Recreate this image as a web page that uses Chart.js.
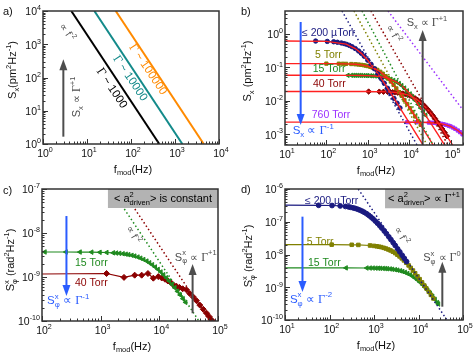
<!DOCTYPE html>
<html>
<head>
<meta charset="utf-8">
<script src="https://cdn.jsdelivr.net/npm/chart.js@4.4.1/dist/chart.umd.min.js"></script>
<style>
    html, body { margin: 0; padding: 0; background: #fff; }
    #wrap { position: relative; width: 474px; height: 356px; }
    #wrap canvas { position: absolute; }
</style>
</head>
<body>
<div id="wrap">
    <canvas id="pa" width="237" height="178" style="left:0;top:0"></canvas>
    <canvas id="pb" width="237" height="178" style="left:237px;top:0"></canvas>
    <canvas id="pc" width="237" height="178" style="left:0;top:178px"></canvas>
    <canvas id="pd" width="237" height="178" style="left:237px;top:178px"></canvas>
</div>
<script>
// ---- a) S_x ~ f^-2 for three quality factors
var aGamma = ['1000', '10000', '100000']
var aLineF = [[4.4, 440], [14.7, 1470], [45, 4500]]
var aLineS = [1e4, 1]

// ---- b) displacement noise, fits and f^-2 asymptotes
var bLabels = ['≤ 200 µTorr', '5 Torr', '15 Torr', '40 Torr', '760 Torr']

var bUTorrF = [55, 105, 150, 185, 230, 270, 310, 360, 420, 500, 600, 700, 820, 1000, 1200, 1450, 1750, 2100, 2500, 3000, 3600, 4300, 5100, 6000]
var bUTorrS = [0.615, 0.60, 0.585, 0.565, 0.54, 0.515, 0.49, 0.455, 0.415, 0.366, 0.31, 0.263, 0.216, 0.164, 0.124, 0.091, 0.065, 0.0466, 0.0338, 0.0238, 0.0167, 0.0118, 0.0085, 0.0061]

var b5TorrF = [100, 200, 250, 300, 400, 500, 600, 700, 800, 900, 1000, 1150, 1300, 1500, 1700, 2000, 2300, 2700, 3100, 3600, 4200, 4900, 5700, 6600, 7700, 9000, 10500, 12000, 14000, 16500, 19000]
var b5TorrS = [0.1298, 0.129, 0.1285, 0.1278, 0.1262, 0.1241, 0.1217, 0.119, 0.116, 0.1127, 0.1093, 0.104, 0.0985, 0.0912, 0.0841, 0.074, 0.065, 0.0547, 0.0461, 0.0377, 0.030, 0.0235, 0.0182, 0.0141, 0.0106, 0.008, 0.006, 0.0046, 0.0034, 0.0025, 0.0019]

var b15TorrF = [330, 400, 450, 500, 560, 630, 700, 800, 900, 1000, 1150, 1300, 1500, 1750, 2000, 2300, 2700, 3100, 3600, 4200, 4900, 5700, 6600, 7700, 9000, 10500, 12000, 14000, 16500, 19000, 22000, 25000]
var b15TorrS = [0.0579, 0.0578, 0.0577, 0.0577, 0.0576, 0.0575, 0.0573, 0.0571, 0.0569, 0.0567, 0.0562, 0.0558, 0.0551, 0.0541, 0.053, 0.0515, 0.0495, 0.0473, 0.0444, 0.0409, 0.037, 0.0328, 0.0286, 0.0241, 0.0199, 0.0161, 0.0132, 0.0103, 0.0078, 0.0061, 0.0047, 0.0037]

var b40TorrF = [1050, 1900, 2400, 3000, 3500, 4000, 4600, 5300, 6100, 7000, 8000, 9200, 10500, 12000, 14000, 16000, 18500, 21000, 24000, 28000, 32000, 37000, 42000, 48000, 55000, 63000, 72000, 82000]
var b40TorrS = [0.01894, 0.01879, 0.01867, 0.01848, 0.01831, 0.01811, 0.01784, 0.0175, 0.01706, 0.0165, 0.01587, 0.01507, 0.01418, 0.01315, 0.01185, 0.01061, 0.00923, 0.00802, 0.00684, 0.00555, 0.00456, 0.00365, 0.00295, 0.00234, 0.00184, 0.00143, 0.00112, 0.00087]

var b760TorrF = [9000, 15000, 30000, 35000, 40000, 46000, 52000, 60000, 68000, 78000, 90000, 100000, 115000, 130000, 150000, 170000, 195000]
var b760TorrS = [0.00229, 0.00228, 0.00223, 0.00221, 0.00218, 0.00214, 0.0021, 0.00205, 0.00198, 0.0019, 0.0018, 0.00171, 0.00158, 0.00145, 0.00129, 0.00115, 0.00099]

var bFitF = [10, 100, 300, 500, 700, 1000, 1500, 2000, 3000, 5000, 7000, 1e4, 1.5e4, 2e4, 3e4, 5e4, 7e4, 1e5, 1.5e5, 2e5]
var bFitUTorr = [0.62, 0.603, 0.496, 0.366, 0.263, 0.164, 0.0855, 0.0512, 0.0238, 0.0088, 0.00452, 0.00222, 0.00099, 0.000558, 0.000248, 8.9e-5, 4.6e-5, 2.2e-5, 1e-5, 5.6e-6]
var bFit5Torr = [0.13, 0.1298, 0.1278, 0.1241, 0.119, 0.1093, 0.0912, 0.074, 0.048, 0.0227, 0.01268, 0.00652, 0.00298, 0.00169, 0.000758, 0.000274, 0.00014, 6.9e-5, 3.1e-5, 1.7e-5]
var bFit15Torr = [0.058, 0.058, 0.05788, 0.05766, 0.05734, 0.05666, 0.05508, 0.05298, 0.04782, 0.03646, 0.02689, 0.01721, 0.00922, 0.00554, 0.00259, 0.000969, 0.000497, 0.000245, 0.000109, 6.1e-5]
var bFit40Torr = [0.019, 0.019, 0.019, 0.01899, 0.01897, 0.01894, 0.01887, 0.01877, 0.01848, 0.01764, 0.0165, 0.01451, 0.0112, 0.00849, 0.005, 0.00219, 0.00118, 0.000594, 0.00027, 0.000153]
var bFit760Torr = [0.0023, 0.0023, 0.0023, 0.0023, 0.0023, 0.0023, 0.0023, 0.0023, 0.0023, 0.002298, 0.002296, 0.00229, 0.00228, 0.00227, 0.00223, 0.00212, 0.00197, 0.00171, 0.00129, 0.00097]

var bSlopeF = [[238, 15400], [464, 26900], [725, 37600], [1190, 86500], [3080, 2e5]]
var bSlopeS = [[4.9, 4.8e-4], [4.9, 4.8e-4], [4.9, 4.8e-4], [4.9, 4.8e-4], [4.9, 5.3e-3]]

// ---- c) phase noise, 15 and 40 Torr
var c15TorrF = [100, 112, 256, 444, 702, 970, 1270, 1640, 1850, 2100, 2400, 2700, 3000, 3400, 3800, 4300, 4800, 5400, 6100, 6800, 7600, 8500, 9500, 10600, 11800, 13200, 14700, 16400, 18300, 20400, 22700, 25300, 28000]
var c15TorrS = [3.7e-9, 3.7e-9, 3.7e-9, 3.69e-9, 3.67e-9, 3.64e-9, 3.6e-9, 3.54e-9, 3.5e-9, 3.45e-9, 3.38e-9, 3.3e-9, 3.22e-9, 3.11e-9, 2.99e-9, 2.84e-9, 2.68e-9, 2.5e-9, 2.3e-9, 2.1e-9, 1.9e-9, 1.69e-9, 1.49e-9, 1.3e-9, 1.125e-9, 9.6e-10, 8.13e-10, 6.83e-10, 5.69e-10, 4.72e-10, 3.91e-10, 3.21e-10, 2.66e-10]

var c40TorrF = [100, 1260, 2500, 3800, 5000, 6400, 7900, 9600, 11000, 12500, 14000, 15500, 17400, 19500, 22000, 25000, 29000, 33000, 38000, 43000, 49000, 56000, 64000, 71000, 78000, 82000]
var c40TorrS = [1.17e-9, 1.2e-9, 9.8e-10, 1.1e-9, 1.1e-9, 1.2e-9, 9.4e-10, 1.02e-9, 9.5e-10, 8.9e-10, 8.1e-10, 7.6e-10, 6.6e-10, 6.2e-10, 5.8e-10, 5.4e-10, 5.1e-10, 4.2e-10, 3.5e-10, 2.9e-10, 2.3e-10, 1.85e-10, 1.5e-10, 1.25e-10, 1.05e-10, 9.5e-11]

var cSlopeF = [[1500, 47400], [2270, 71800]]
var cSlopeS = [1e-7, 1e-10]

// ---- d) phase noise, <= 200 uTorr, 5 and 15 Torr
var dUTorrF = [10, 57, 114, 174, 228, 270, 300, 340, 380, 430, 480, 540, 600, 680, 760, 850, 950, 1070, 1200, 1350, 1500, 1700, 1900, 2150, 2400, 2700, 3000, 3400, 3800, 4300, 4800, 5400]
var dUTorrS = [3.2e-7, 3.18e-7, 3.13e-7, 3.04e-7, 2.93e-7, 2.83e-7, 2.76e-7, 2.65e-7, 2.55e-7, 2.41e-7, 2.27e-7, 2.11e-7, 1.95e-7, 1.76e-7, 1.58e-7, 1.4e-7, 1.23e-7, 1.05e-7, 8.99e-8, 7.55e-8, 6.4e-8, 5.21e-8, 4.31e-8, 3.47e-8, 2.85e-8, 2.29e-8, 1.88e-8, 1.48e-8, 1.2e-8, 9.45e-9, 7.63e-9, 6.06e-9]

var d5TorrF = [10, 112, 316, 445, 815, 1000, 1150, 1300, 1450, 1650, 1850, 2100, 2350, 2650, 3000, 3350, 3750, 4200, 4700, 5300, 6000, 6700, 7500, 8400, 9500, 10600, 12000, 13500, 15000, 17000, 19000, 21600]
var d5TorrS = [2e-8, 2e-8, 1.98e-8, 1.96e-8, 1.885e-8, 1.83e-8, 1.78e-8, 1.73e-8, 1.68e-8, 1.6e-8, 1.52e-8, 1.42e-8, 1.33e-8, 1.22e-8, 1.1e-8, 9.85e-9, 8.73e-9, 7.63e-9, 6.6e-9, 5.59e-9, 4.64e-9, 3.9e-9, 3.24e-9, 2.67e-9, 2.15e-9, 1.77e-9, 1.41e-9, 1.13e-9, 9.23e-10, 7.26e-10, 5.86e-10, 4.56e-10]

var d15TorrF = [10, 235, 690, 815, 950, 1100, 1250, 1400, 1600, 1800, 2000, 2300, 2600, 3000, 3400, 3900, 4400, 5000, 5700, 6500, 7400, 8400, 9500, 10800, 12300, 14000, 16000, 18200, 20700, 23500, 26500, 28000]
var d15TorrS = [3.9e-9, 3.9e-9, 3.87e-9, 3.86e-9, 3.85e-9, 3.83e-9, 3.81e-9, 3.79e-9, 3.76e-9, 3.72e-9, 3.68e-9, 3.62e-9, 3.54e-9, 3.44e-9, 3.33e-9, 3.18e-9, 3.03e-9, 2.84e-9, 2.63e-9, 2.4e-9, 2.15e-9, 1.9e-9, 1.67e-9, 1.43e-9, 1.2e-9, 9.96e-10, 8.11e-10, 6.58e-10, 5.29e-10, 4.23e-10, 3.41e-10, 3.08e-10]

var dSlopeF = [443, 43700]
var dSlopeS = [1e-6, 1e-10]

// ---- styles
var SANS = '"Liberation Sans", Arial, Helvetica, sans-serif'
var SERIF = '"Liberation Serif", "Times New Roman", serif'
var AXIS = '#333333'
var GRAY = '#4d4d4d'
var BOX = '#b3b3b3'
var BLUE = '#2a5cff'
var RED = '#ff2020'
var NAVY = '#1a1a80'
var OLIVE = '#808000'
var GREEN = '#1f8a1f'
var DARKRED = '#8b0000'
var PURPLE = '#9b30ff'
var aLineColors = ['#000000', '#138a8a', '#ff8a00']
var bColors = [NAVY, OLIVE, GREEN, DARKRED, PURPLE]
var TICK_SIZE = 10.5

function pts(fs, ss) {
    return fs.map(function(f, i) {
        return { x: f, y: Array.isArray(ss) ? ss[i] : ss }
    })
}

function lineSet(data, color, width, order) {
    return { data: data, showLine: true, borderColor: color, borderWidth: width, pointRadius: 0, order: order || 0 }
}

function dotSet(data, color) {
    return { data: data, showLine: true, borderColor: color, borderWidth: 1.5, borderDash: [1.5, 2.5], pointRadius: 0, order: 0 }
}

// markers joined by a thin line; firstHidden: the first point only starts the line at the left edge
function markSet(data, color, style, r, rot, firstHidden, order) {
    return {
        data: data, showLine: true, borderColor: color, backgroundColor: color,
        borderWidth: 1.2, pointStyle: style, pointRotation: rot || 0,
        pointBorderColor: color, pointBorderWidth: 1,
        pointRadius: function(c) { return firstHidden && c.dataIndex === 0 ? 0 : r },
        order: order
    }
}

function fontFor(kind, size) {
    var small = size * 0.68
    if (kind === 'g') return (size * 1.08) + 'px ' + SERIF
    if (kind === 'sub' || kind === 'sup' || kind === 'st') return small + 'px ' + SANS
    return size + 'px ' + SANS
}

// text with sub/superscripts; parts are [text, kind] or [sup, 'st', sub]
function rich(ctx, parts, x, y, o) {
    var size = o.size || 11
    ctx.save()
    ctx.translate(x, y)
    if (o.angle) ctx.rotate(o.angle * Math.PI / 180)
    ctx.fillStyle = o.color || '#000'
    ctx.textBaseline = 'middle'
    ctx.textAlign = 'left'
    var widths = parts.map(function(p) {
        ctx.font = fontFor(p[1], size)
        if (p[1] === 'st') return Math.max(ctx.measureText(p[0]).width, ctx.measureText(p[2]).width)
        return ctx.measureText(p[0]).width
    })
    var total = widths.reduce(function(s, w) { return s + w }, 0)
    var cx = o.align === 'center' ? -total / 2 : (o.align === 'right' ? -total : 0)
    parts.forEach(function(p, i) {
        ctx.font = fontFor(p[1], size)
        if (p[1] === 'sub') ctx.fillText(p[0], cx, size * 0.32)
        else if (p[1] === 'sup') ctx.fillText(p[0], cx, -size * 0.4)
        else if (p[1] === 'st') {
            ctx.fillText(p[0], cx, -size * 0.4)
            ctx.fillText(p[2], cx, size * 0.34)
        } else ctx.fillText(p[0], cx, 0)
        cx += widths[i]
    })
    ctx.restore()
}

function arrow(ctx, x, y0, y1, color) {
    var dir = y1 < y0 ? -1 : 1
    ctx.save()
    ctx.strokeStyle = color
    ctx.fillStyle = color
    ctx.lineWidth = 2
    ctx.beginPath()
    ctx.moveTo(x, y0)
    ctx.lineTo(x, y1 - dir * 8)
    ctx.stroke()
    ctx.beginPath()
    ctx.moveTo(x, y1)
    ctx.lineTo(x - 4, y1 - dir * 11)
    ctx.lineTo(x + 4, y1 - dir * 11)
    ctx.closePath()
    ctx.fill()
    ctx.restore()
}

function logValues(min, max) {
    var out = []
    for (var e = Math.floor(Math.log10(min)); e <= Math.ceil(Math.log10(max)); e++) {
        for (var k = 1; k < 10; k++) {
            var v = k * Math.pow(10, e)
            if (v >= min * 0.9999 && v <= max * 1.0001) out.push({ v: v, major: k === 1, e: e })
        }
    }
    return out
}

function logAxis(min, max, size, horizontal) {
    return {
        type: 'logarithmic', min: min, max: max,
        grid: { display: false, drawTicks: false },
        border: { display: false },
        ticks: { display: false },
        afterFit: function(scale) {
            if (horizontal) scale.height = size
            else scale.width = size
        }
    }
}

var fTitle = [['f', ''], ['mod', 'sub'], ['(Hz)', '']]

function framePlugin(cfg) {
    return {
        id: 'frame',
        afterDraw: function(chart) {
            var ctx = chart.ctx, a = chart.chartArea
            var xs = chart.scales.x, ys = chart.scales.y
            var X = function(v) { return xs.getPixelForValue(v) }
            var Y = function(v) { return ys.getPixelForValue(v) }

            cfg.draw(ctx, X, Y, a)

            // inward ticks and box
            ctx.save()
            ctx.strokeStyle = AXIS
            ctx.lineWidth = 1
            logValues(cfg.x[0], cfg.x[1]).forEach(function(t) {
                var px = Math.round(X(t.v)) + 0.5
                ctx.beginPath()
                ctx.moveTo(px, a.bottom)
                ctx.lineTo(px, a.bottom - (t.major ? 5 : 2.5))
                ctx.stroke()
            })
            logValues(cfg.y[0], cfg.y[1]).forEach(function(t) {
                var py = Math.round(Y(t.v)) + 0.5
                ctx.beginPath()
                ctx.moveTo(a.left, py)
                ctx.lineTo(a.left + (t.major ? 5 : 2.5), py)
                ctx.stroke()
            })
            ctx.lineWidth = 1.5
            ctx.strokeRect(a.left, a.top, a.right - a.left, a.bottom - a.top)
            ctx.restore()

            // tick labels 10^n
            ctx.font = TICK_SIZE + 'px ' + SANS
            var w10 = ctx.measureText('10').width
            logValues(cfg.x[0], cfg.x[1]).filter(function(t) { return t.major }).forEach(function(t) {
                rich(ctx, [['10', ''], [String(t.e), 'sup']], X(t.v) - w10 / 2, a.bottom + 10.5, { size: TICK_SIZE, color: '#111' })
            })
            logValues(cfg.y[0], cfg.y[1]).filter(function(t) { return t.major }).forEach(function(t) {
                rich(ctx, [['10', ''], [String(t.e), 'sup']], a.left - 2, Y(t.v) + 1.5, { size: TICK_SIZE, color: '#111', align: 'right' })
            })

            rich(ctx, fTitle, (a.left + a.right) / 2 + 2, a.bottom + 25.5, { size: 11, color: '#111', align: 'center' })
            rich(ctx, cfg.yTitle, cfg.yTitlePos[0], cfg.yTitlePos[1], { size: 11, color: '#111', align: 'center', angle: -90 })
            rich(ctx, [[cfg.letter + ')', '']], cfg.letterPos[0], cfg.letterPos[1], { size: 11, color: '#111' })
        }
    }
}

function makeChart(id, cfg) {
    return new Chart(document.getElementById(id), {
        type: 'scatter',
        data: { datasets: cfg.datasets },
        options: {
            responsive: false,
            animation: false,
            events: [],
            layout: { padding: { left: 0, right: cfg.padR, top: cfg.padT, bottom: 0 } },
            plugins: { legend: { display: false }, tooltip: { enabled: false } },
            scales: {
                x: logAxis(cfg.x[0], cfg.x[1], cfg.xH, true),
                y: logAxis(cfg.y[0], cfg.y[1], cfg.yW, false)
            }
        },
        plugins: [framePlugin(cfg)]
    })
}

var gammaUp = [['S', ''], ['x', 'sub'], [' ∝ ', ''], ['Γ', 'g'], ['+1', 'sup']]
var slopeText = [['∝ f', ''], ['-2', 'sup']]

// a)
makeChart('pa', {
    letter: 'a', letterPos: [3, 12],
    x: [1, 1e4], y: [1, 1e4], yW: 43, xH: 34, padR: 18, padT: 11,
    yTitle: [['S', ''], ['x', 'sub'], ['(pm', ''], ['2', 'sup'], ['Hz', ''], ['-1', 'sup'], [')', '']],
    yTitlePos: [13, 70],
    datasets: aLineF.map(function(fs, i) { return lineSet(pts(fs, aLineS), aLineColors[i], 2) }),
    draw: function(ctx, X, Y) {
        arrow(ctx, X(2.9), Y(1.66), Y(355), GRAY)
        rich(ctx, gammaUp, X(6), Y(26), { size: 11, color: GRAY, align: 'center', angle: -90 })
        rich(ctx, slopeText, X(3.5), Y(2250), { size: 10, color: GRAY, align: 'center', angle: 56 })
        var anchors = [[36.4, 47.3], [94.9, 94.6], [241, 174]]
        aGamma.forEach(function(g, i) {
            rich(ctx, [['Γ', 'g'], [' ~ ' + g, '']], X(anchors[i][0]), Y(anchors[i][1]),
                { size: 11.5, color: aLineColors[i], align: 'center', angle: 56 })
        })
    }
})

// b)
var bFits = [bFitUTorr, bFit5Torr, bFit15Torr, bFit40Torr, bFit760Torr]
makeChart('pb', {
    letter: 'b', letterPos: [4, 12],
    x: [10, 2e5], y: [4.75e-4, 4.88], yW: 48, xH: 33, padR: 11, padT: 11,
    yTitle: [['S', ''], ['x', 'sub'], [' (pm', ''], ['2', 'sup'], ['Hz', ''], ['-1', 'sup'], [')', '']],
    yTitlePos: [11, 71],
    datasets: []
        .concat(bSlopeF.map(function(fs, i) { return dotSet(pts(fs, bSlopeS[i]), bColors[i]) }))
        .concat(bFits.map(function(s) { return lineSet(pts(bFitF, s), RED, 1.4, 1) }))
        .concat([
            markSet(pts(bUTorrF, bUTorrS), NAVY, 'circle', 2.2, 0, false, 2),
            markSet(pts(b5TorrF, b5TorrS), OLIVE, 'rect', 2.3, 0, false, 2),
            markSet(pts(b15TorrF, b15TorrS), GREEN, 'triangle', 2.5, -90, false, 2),
            markSet(pts(b40TorrF, b40TorrS), DARKRED, 'rectRot', 2.7, 0, false, 2),
            markSet(pts(b760TorrF, b760TorrS), PURPLE, 'rect', 2.3, 0, false, 2)
        ]),
    draw: function(ctx, X, Y, a) {
        arrow(ctx, X(23.9), Y(2.29), Y(1.88e-3), BLUE)
        arrow(ctx, X(21200), a.bottom, Y(1.32), GRAY)
        rich(ctx, gammaUp, X(8700), Y(2.13), { size: 11, color: GRAY })
        rich(ctx, slopeText, X(4170), Y(1), { size: 10, color: GRAY, align: 'center', angle: 60 })
        var anchors = [[25.7, 1.07], [53, 0.235], [46.7, 0.0895], [47.4, 0.0318], [44.2, 3.76e-3]]
        bLabels.forEach(function(t, i) {
            rich(ctx, [[t, '']], X(anchors[i][0]), Y(anchors[i][1]), { size: 10.5, color: bColors[i] })
        })
        rich(ctx, [['S', ''], ['x', 'sub'], [' ∝ ', ''], ['Γ', 'g'], ['-1', 'sup']], X(15.3), Y(1.25e-3), { size: 11.5, color: BLUE })
    }
})

var phiTitle = [['S', ''], ['x', 'st', 'φ'], [' (rad', ''], ['2', 'sup'], ['Hz', ''], ['-1', 'sup'], [')', '']]

// c)
makeChart('pc', {
    letter: 'c', letterPos: [3, 13],
    x: [100, 1e5], y: [1e-10, 1e-7], yW: 42, xH: 35, padR: 19, padT: 11,
    yTitle: phiTitle, yTitlePos: [11, 82],
    datasets: [
        dotSet(pts(cSlopeF[0], cSlopeS), GREEN),
        dotSet(pts(cSlopeF[1], cSlopeS), DARKRED),
        markSet(pts(c15TorrF, c15TorrS), GREEN, 'triangle', 2.6, -90, true, 1),
        markSet(pts(c40TorrF, c40TorrS), DARKRED, 'rectRot', 3, 0, true, 2)
    ],
    draw: function(ctx, X, Y, a) {
        var bx = X(1330), by = Y(3.7e-8)
        ctx.fillStyle = BOX
        ctx.fillRect(bx, a.top, a.right - bx, by - a.top)
        rich(ctx, [['< a', ''], ['2', 'st', 'driven'], ['> is constant', '']], (bx + a.right) / 2, (a.top + by) / 2 + 0.5, { size: 11, color: '#000', align: 'center' })
        rich(ctx, slopeText, X(3540), Y(9e-9), { size: 10, color: GRAY, align: 'center', angle: 60 })
        arrow(ctx, X(36900), Y(1.5e-10), Y(1.97e-9), GRAY)
        rich(ctx, [['S', ''], ['x', 'st', 'φ'], [' ∝ ', ''], ['Γ', 'g'], ['+1', 'sup']], X(18400), Y(2.77e-9), { size: 11, color: GRAY })
        arrow(ctx, X(261), Y(2.43e-8), Y(3.7e-10), BLUE)
        rich(ctx, [['S', ''], ['x', 'st', 'φ'], [' ∝ ', ''], ['Γ', 'g'], ['-1', 'sup']], X(122), Y(2.85e-10), { size: 11.5, color: BLUE })
        rich(ctx, [['15 Torr', '']], X(365), Y(2.03e-9), { size: 10.5, color: GREEN })
        rich(ctx, [['40 Torr', '']], X(365), Y(7.2e-10), { size: 10.5, color: DARKRED })
    }
})

// d)
makeChart('pd', {
    letter: 'd', letterPos: [4, 12],
    x: [10, 1e5], y: [1e-10, 1e-6], yW: 48, xH: 36, padR: 11, padT: 11,
    yTitle: phiTitle, yTitlePos: [12, 78],
    datasets: [
        dotSet(pts(dSlopeF, dSlopeS), NAVY),
        markSet(pts(dUTorrF, dUTorrS), NAVY, 'circle', 2.4, 0, true, 1),
        markSet(pts(d5TorrF, d5TorrS), OLIVE, 'rect', 2.5, 0, true, 2),
        markSet(pts(d15TorrF, d15TorrS), GREEN, 'triangle', 2.6, -90, true, 3)
    ],
    draw: function(ctx, X, Y, a) {
        var bx = X(1770), by = Y(2.58e-7)
        ctx.fillStyle = BOX
        ctx.fillRect(bx, a.top, a.right - bx, by - a.top)
        rich(ctx, [['< a', ''], ['2', 'st', 'driven'], ['> ∝ ', ''], ['Γ', 'g'], ['+1', 'sup']], (bx + a.right) / 2, (a.top + by) / 2 + 0.5, { size: 11, color: '#000', align: 'center' })
        rich(ctx, slopeText, X(4050), Y(3.67e-8), { size: 10, color: GRAY, align: 'center', angle: 60 })
        arrow(ctx, X(34300), Y(2.55e-10), Y(6e-9), GRAY)
        rich(ctx, [['S', ''], ['x', 'st', 'φ'], [' ∝ ', ''], ['Γ', 'g'], ['0', 'sup']], X(12800), Y(7.8e-9), { size: 11, color: GRAY })
        arrow(ctx, X(24.7), Y(1.43e-7), Y(7.2e-10), BLUE)
        rich(ctx, [['S', ''], ['x', 'st', 'φ'], [' ∝ ', ''], ['Γ', 'g'], ['-2', 'sup']], X(12.9), Y(4.1e-10), { size: 11.5, color: BLUE })
        rich(ctx, [['≤ 200 µTorr', '']], X(28.1), Y(4.3e-7), { size: 10.5, color: NAVY })
        rich(ctx, [['5 Torr', '']], X(30.8), Y(2.46e-8), { size: 10.5, color: OLIVE })
        rich(ctx, [['15 Torr', '']], X(32.9), Y(5.4e-9), { size: 10.5, color: GREEN })
    }
})
</script>
</body>
</html>
